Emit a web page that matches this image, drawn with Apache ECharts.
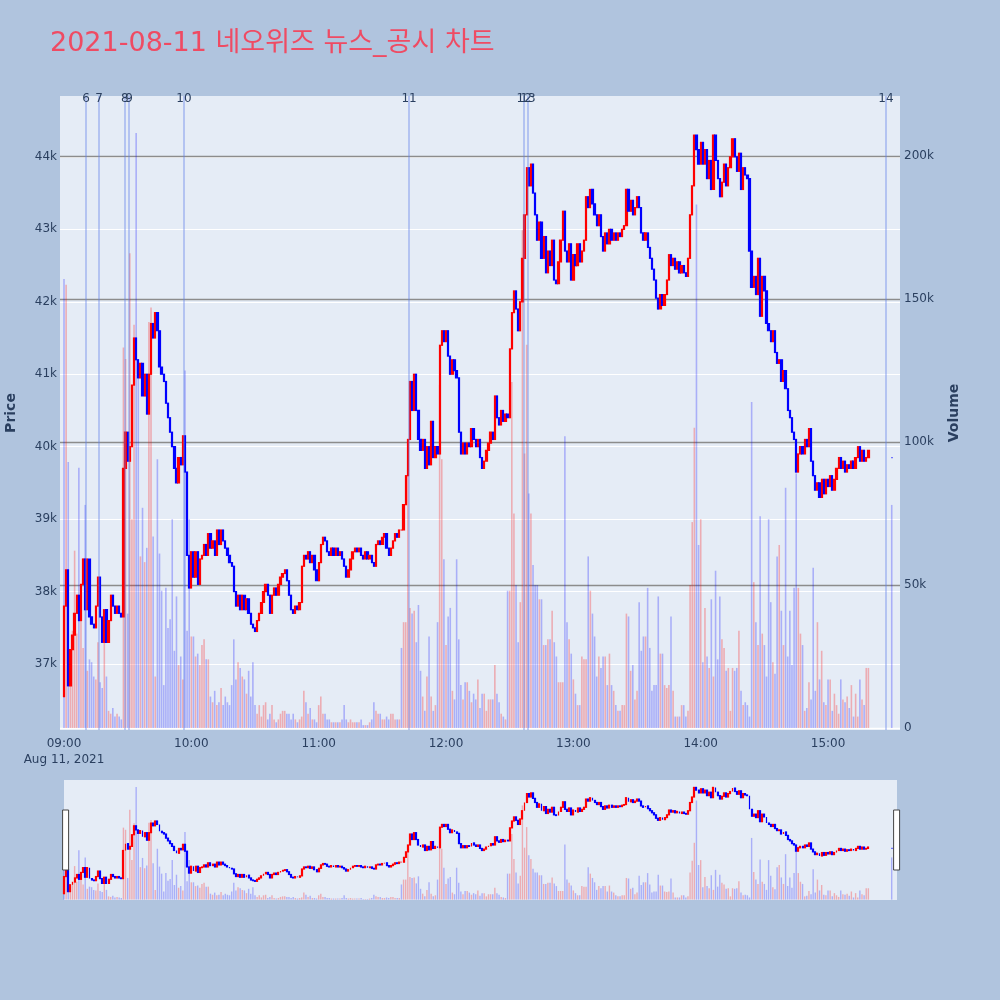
<!DOCTYPE html>
<html><head><meta charset="utf-8">
<script src="https://cdn.jsdelivr.net/npm/echarts@6/dist/echarts.min.js"></script>
<style>html,body{margin:0;padding:0;background:#B0C4DE;}#chart{width:1000px;height:1000px;}</style>
</head><body><div id="chart"></div>
<script>
const TITLE = '2021-08-11 네오위즈 뉴스_공시 차트';
const DATE_LABEL = 'Aug 11, 2021';
const SESSION_START = '09:00';
const SESSION_BARS = 380;            // 1-minute bars 09:00 .. 15:19
const AUCTION_TIME = '15:30';        // closing single-price bar
const FIRST_OPEN = 36550;

// close price of every 1-minute bar, then the closing auction
const closes = [
37800,38300,36700,37200,37400,37700,37950,37600,38100,38450,
37750,38450,37650,37550,37500,37800,38200,37650,37300,37750,
37300,37600,37950,37800,37700,37800,37700,37650,39700,40200,
39800,40000,40850,41500,41200,40950,41150,40700,41000,40450,
41000,41700,41500,41850,41600,41100,41000,40900,40600,40400,
40200,40000,39700,39500,39850,39750,40150,39650,38500,38050,
38550,38200,38550,38100,38450,38500,38650,38500,38800,38600,
38700,38500,38850,38650,38850,38700,38600,38500,38400,38350,
38000,37800,37950,37750,37950,37750,37900,37700,37550,37500,
37450,37600,37700,37850,38000,38100,37950,37700,37950,38050,
37950,38100,38200,38250,38300,38150,37950,37750,37700,37800,
37750,37850,38350,38500,38450,38550,38400,38500,38300,38150,
38400,38650,38750,38700,38550,38500,38600,38500,38600,38500,
38550,38450,38350,38200,38300,38450,38550,38600,38550,38600,
38500,38450,38550,38450,38500,38400,38350,38650,38700,38650,
38750,38800,38600,38500,38600,38700,38800,38750,38850,38850,
39200,39600,40100,40900,40500,41000,40500,40100,39950,40100,
39700,40000,39750,40350,39850,40000,39900,41400,41600,41450,
41600,41250,41000,41200,41050,40950,40200,39900,40050,39900,
40050,40000,40250,40100,40000,40100,39850,39700,39800,39950,
40050,40200,40100,40700,40400,40300,40500,40350,40450,40400,
41350,41850,42150,41900,41600,42000,42600,43200,43850,43600,
43900,43500,43200,42850,43100,42600,42900,42400,42700,42500,
42850,42300,42250,42550,42850,43250,42700,42550,42800,42300,
42650,42500,42800,42550,42700,42850,43450,43300,43550,43350,
43200,43050,43200,42900,42700,42950,42800,43000,42850,42950,
42850,42950,42900,43000,43050,43550,43250,43400,43200,43300,
43450,43300,42950,42850,42950,42750,42600,42450,42300,42050,
41900,42100,41950,42100,42300,42650,42500,42600,42450,42550,
42400,42500,42400,42350,42600,43200,43600,44300,44100,43900,
44200,43900,44100,43700,43950,43550,44300,43950,43700,43450,
43650,43900,43600,43850,44000,44250,44000,43800,44050,43550,
43850,43750,43700,42700,42200,42350,42100,42600,41800,42350,
42150,41700,41600,41450,41600,41300,41150,41200,40900,41050,
40800,40500,40400,40200,40100,39650,39900,40000,39900,40100,
40000,40250,39800,39600,39400,39500,39300,39550,39350,39550,
39450,39600,39400,39550,39700,39850,39700,39800,39650,39750,
39700,39800,39700,39850,40000,39800,39950,39800,39850,39950,
39850
];

// traded volume of every bar, in thousands of shares
const volumesK = [
157,155,93,27,34,62,33,91,40,28,
78,20,24,23,18,17,30,16,14,30,
18,6,5,7,4,5,4,3,133,129,
40,166,73,141,208,125,60,77,58,63,
142,147,67,18,94,61,48,15,49,35,
38,73,27,46,22,25,17,125,34,73,
32,32,25,26,22,29,31,24,24,11,
9,13,8,9,14,8,11,9,8,15,
31,17,23,21,18,17,12,20,11,23,
8,5,8,4,8,9,3,5,8,3,
2,3,5,6,6,5,5,3,5,3,
2,3,4,13,9,5,7,3,3,2,
8,11,5,5,3,3,2,2,2,2,
2,3,8,3,2,3,2,2,2,2,
3,1,1,1,2,3,9,6,5,5,
3,3,4,3,5,5,3,3,3,28,
37,37,89,42,40,41,30,43,20,11,
6,18,32,11,6,8,37,120,94,59,
29,39,42,13,10,59,31,15,10,16,
16,13,9,12,10,17,7,12,12,6,
10,10,10,22,12,9,5,4,3,48,
48,121,75,50,30,44,174,96,134,82,
75,57,50,50,45,45,29,29,31,31,
41,30,25,16,16,16,102,37,31,26,
17,12,8,8,25,24,24,60,48,40,
32,18,25,21,25,25,15,26,15,13,
8,6,6,8,8,40,39,20,22,10,
13,44,27,32,32,49,28,13,15,15,
46,26,26,15,14,15,39,13,4,4,
4,8,8,4,6,50,72,105,183,64,
73,23,42,25,21,45,18,55,24,46,
31,28,20,21,6,21,20,21,34,13,
8,9,8,4,114,51,37,29,74,33,
29,18,73,44,23,19,60,64,41,29,
84,25,41,22,49,89,49,33,29,6,
7,16,10,56,13,37,17,27,9,8,
17,17,6,12,8,5,17,10,9,11,
7,15,4,12,4,17,10,8,21,21,
78
];

const newsLabels = ['6','7','8','9','10','11','12','13','14'];
const newsTimes  = ['09:10:24','09:16:30','09:28:42','09:30:36','09:56:30','11:42:36','12:36:48','12:38:36','15:27:18'];

const timeTicks   = ['09:00','10:00','11:00','12:00','13:00','14:00','15:00'];
const priceTicks  = [37000,38000,39000,40000,41000,42000,43000,44000];
const volumeTicks = [0,50000,100000,150000,200000];

const FONT = '"DejaVu Sans", "Noto Sans CJK KR", sans-serif';
const UP = '#FF0000', DOWN = '#0000FF';

function minuteOf(t) {
  const p = t.split(':').map(Number);
  const s = SESSION_START.split(':').map(Number);
  return (p[0] * 60 + p[1] + (p[2] || 0) / 60) - (s[0] * 60 + s[1]);
}
function fmtMinute(v) {
  const s = SESSION_START.split(':').map(Number);
  const tot = s[0] * 60 + s[1] + Math.round(v);
  const hh = String(Math.floor(tot / 60)).padStart(2, '0');
  const mm = String(tot % 60).padStart(2, '0');
  return hh + ':' + mm;
}

const xs = closes.map((c, i) => i < SESSION_BARS ? i : minuteOf(AUCTION_TIME));
const opens = closes.map((c, i) => i === 0 ? FIRST_OPEN : (i < SESSION_BARS ? closes[i - 1] : c));
const candleData = closes.map((c, i) => {
  const o = opens[i];
  return [xs[i], o, c, Math.min(o, c), Math.max(o, c)];
});
const volData = volumesK.map((v, i) => {
  const up = i > 0 && closes[i] > closes[i - 1];
  return { value: [xs[i], v * 1000], itemStyle: { color: up ? 'rgba(255,0,0,0.27)' : 'rgba(0,0,255,0.26)' } };
});

const X_MIN = -1.885, X_MAX = 393.9;
const MINI_X_MAX = 392.5;
const P_MIN = 36090, P_MAX = 44840;
const V_MIN = -700, V_MAX = 220980;

const chart = echarts.init(document.getElementById('chart'), null, { renderer: 'canvas' });
const labelStyle = { color: '#2a3f5f', fontSize: 12, fontFamily: FONT };

chart.setOption({
  animation: false,
  backgroundColor: '#B0C4DE',
  textStyle: { fontFamily: FONT },
  title: {
    text: TITLE, left: 50, top: 30, padding: 0,
    textStyle: { color: '#EF4B63', fontSize: 27, fontWeight: 'normal', fontFamily: FONT }
  },
  grid: [
    { left: 60, top: 96, width: 840, height: 634, show: true, backgroundColor: '#E5ECF6', borderWidth: 0, outerBoundsMode: 'none', containLabel: false },
    { left: 64, top: 780, width: 833, height: 120, show: true, backgroundColor: '#E5ECF6', borderWidth: 0, outerBoundsMode: 'none', containLabel: false }
  ],
  xAxis: [
    {
      type: 'value', gridIndex: 0, min: X_MIN, max: X_MAX,
      axisLine: { show: false }, axisTick: { show: false, customValues: timeTicks.map(minuteOf) },
      splitLine: { show: false },
      axisLabel: Object.assign({}, labelStyle, {
        customValues: timeTicks.map(minuteOf), margin: 6, lineHeight: 16,
        formatter: v => Math.round(v) === 0 ? fmtMinute(v) + '\n' + DATE_LABEL : fmtMinute(v)
      })
    },
    { type: 'value', gridIndex: 1, min: 0, max: MINI_X_MAX, show: false, splitLine: { show: false } }
  ],
  yAxis: [
    {
      type: 'value', gridIndex: 0, position: 'left', min: P_MIN, max: P_MAX,
      name: 'Price', nameLocation: 'middle', nameGap: 42,
      nameTextStyle: { color: '#2a3f5f', fontSize: 14, fontWeight: 'bold', fontFamily: FONT },
      axisLine: { show: false }, axisTick: { show: false, customValues: priceTicks },
      axisLabel: Object.assign({}, labelStyle, { customValues: priceTicks, margin: 3, formatter: v => (v / 1000) + 'k' }),
      splitLine: { show: true, lineStyle: { color: '#FFFFFF', width: 1 } }
    },
    {
      type: 'value', gridIndex: 0, position: 'right', min: V_MIN, max: V_MAX,
      name: 'Volume', nameLocation: 'middle', nameGap: 47,
      nameTextStyle: { color: '#2a3f5f', fontSize: 14, fontWeight: 'bold', fontFamily: FONT },
      axisLine: { show: false }, axisTick: { show: false, customValues: volumeTicks },
      axisLabel: Object.assign({}, labelStyle, { customValues: volumeTicks, margin: 4, formatter: v => v === 0 ? '0' : (v / 1000) + 'k' }),
      splitLine: { show: true, lineStyle: { color: ['#FFFFFF', '#8c8c8c', '#8c8c8c', '#8c8c8c', '#8c8c8c'], width: 1.3 } }
    },
    { type: 'value', gridIndex: 1, min: P_MIN, max: P_MAX, show: false, splitLine: { show: false } },
    { type: 'value', gridIndex: 1, min: V_MIN, max: V_MAX, show: false, splitLine: { show: false } }
  ],
  dataZoom: [{
    type: 'slider', xAxisIndex: [1], start: 0, end: 100, filterMode: 'none',
    left: 64, width: 833, top: 780, height: 120,
    showDataShadow: false, showDetail: false, brushSelect: false,
    backgroundColor: 'rgba(0,0,0,0)', borderColor: 'rgba(0,0,0,0)', fillerColor: 'rgba(0,0,0,0)',
    handleIcon: 'path://M0,0H10V100H0Z', handleSize: '50%',
    handleStyle: { color: '#FFFFFF', borderColor: '#444444', borderWidth: 1 },
    moveHandleSize: 0, zoomLock: true, z: 10
  }],
  series: [
    {
      type: 'bar', name: 'Volume', xAxisIndex: 0, yAxisIndex: 1, data: volData, barWidth: 1.6, z: 1,
      silent: true,
      markLine: {
        silent: true, symbol: ['none', 'none'], animation: false,
        lineStyle: { color: 'rgba(95,130,235,0.5)', width: 1.5, type: 'solid' },
        label: { show: true, position: 'end', formatter: p => p.name, color: '#2a3f5f', fontSize: 12, fontFamily: FONT, distance: -9 },
        data: newsLabels.map((n, i) => ({ name: n, xAxis: minuteOf(newsTimes[i]) }))
      }
    },
    {
      type: 'candlestick', name: 'Price', xAxisIndex: 0, yAxisIndex: 0, data: candleData,
      encode: { x: 0, y: [1, 2, 3, 4] }, barWidth: 1.8, z: 3, silent: true,
      itemStyle: { color: UP, color0: DOWN, borderColor: UP, borderColor0: DOWN, borderWidth: 1.2 }
    },
    {
      type: 'bar', xAxisIndex: 1, yAxisIndex: 3, data: volData, barWidth: 1.4, z: 1, silent: true
    },
    {
      type: 'candlestick', xAxisIndex: 1, yAxisIndex: 2, data: candleData,
      encode: { x: 0, y: [1, 2, 3, 4] }, barWidth: 1.4, z: 3, silent: true,
      itemStyle: { color: UP, color0: DOWN, borderColor: UP, borderColor0: DOWN, borderWidth: 1.2 }
    }
  ]
});
</script></body></html>
